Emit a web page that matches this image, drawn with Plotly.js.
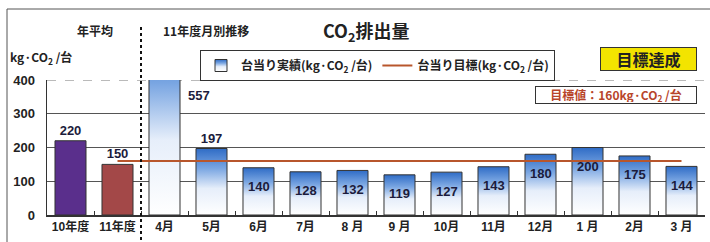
<!DOCTYPE html>
<html><head><meta charset="utf-8">
<script src="https://cdn.plot.ly/plotly-3.0.1.min.js"></script>
<style>html,body{margin:0;padding:0;background:#fff}#chart{width:710px;height:242px}</style>
</head><body><div id="chart"></div>
<script>
// ---- data ----
const categories = ['10年度','11年度','4月','5月','6月','7月','8 月','9 月','10月','11月','12月','1 月','2月','3 月'];
const annualCats = ['10年度','11年度'];
const annualValues = [220, 150];
const monthCats = ['4月','5月','6月','7月','8 月','9 月','10月','11月','12月','1 月','2月','3 月'];
const monthValues = [557, 197, 140, 128, 132, 119, 127, 143, 180, 200, 175, 144];
const targetValue = 160;
const targetRange = ['11年度','3 月'];
const yTicks = [0, 100, 200, 300, 400];

const FONT = 'Liberation Sans, Noto Sans CJK JP, sans-serif';
const JFONT = 'Noto Sans CJK JP, sans-serif';
const LBL = {family:FONT, size:13, color:'#1c1c3c', weight:'bold'};

const annual = {
  type:'bar', x:annualCats, y:annualValues, name:'年平均', showlegend:false,
  marker:{color:['#5a2f8c','#a34848'], line:{color:'#333', width:1}},
  text:annualValues.map(String), textposition:'outside',
  textfont:LBL, width:0.66
};
const monthly = {
  type:'bar', x:monthCats, y:monthValues, name:'台当り実績(kg·CO<sub>2</sub> /台)',
  marker:{color:'#4a86d6', line:{color:'#333', width:1}},
  text:monthValues.map(String),
  textposition:monthValues.map((v,i)=> i===1 ? 'outside' : 'none'),
  textfont:LBL, width:0.66
};
const target = {
  type:'scatter', mode:'lines', x:targetRange, y:[targetValue, targetValue],
  name:'台当り目標(kg·CO<sub>2</sub> /台)', line:{color:'#b8562c', width:2}
};

const px = x => (x-47)/658, py = y => 1+(80-y)/135;

const insideLabels = monthCats.map((c,i) => ({
  xref:'x', yref:'y', x:c, y:monthValues[i], text:String(monthValues[i]), showarrow:false,
  xanchor:'center', yanchor:'middle', yshift:-19, font:LBL
})).filter((a,i) => i >= 2);

const layout = {
  width:710, height:242,
  margin:{l:47, r:5, t:80, b:27},
  paper_bgcolor:'#fff', plot_bgcolor:'#fff',
  barmode:'overlay',
  font:{family:FONT, color:'#222'},
  xaxis:{type:'category', categoryorder:'array', categoryarray:categories,
    range:[-0.5, 13.5], showgrid:false, showline:true, linecolor:'#333', linewidth:2,
    ticks:'inside', tickson:'boundaries', ticklen:4, tickcolor:'#333',
    tickfont:{family:FONT, size:12, color:'#222', weight:'bold'}},
  yaxis:{range:[0,400], tickvals:yTicks, showgrid:true, gridcolor:'#555', gridwidth:1,
    showline:true, linecolor:'#333', linewidth:1.5, zeroline:false, ticks:'', ticklabelstandoff:8,
    tickfont:{family:FONT, size:13, color:'#222', weight:'bold'}},
  legend:{orientation:'h', x:px(200), y:py(50), xanchor:'left', yanchor:'top',
    bordercolor:'#333', borderwidth:1, bgcolor:'#fff',
    font:{family:JFONT, size:12, color:'#222', weight:'bold'}, itemwidth:30, tracegroupgap:0},
  shapes:[
    {type:'line', xref:'paper', yref:'y', x0:0, x1:1, y0:400, y1:400, layer:'between',
      line:{color:'#fff', width:2}},
    {type:'line', xref:'paper', yref:'y', x0:0, x1:1, y0:400, y1:400, layer:'between',
      line:{color:'#777', width:1, dash:'dash'}},
    {type:'line', xref:'x', yref:'paper', x0:1.5, x1:1.5, y0:py(240), y1:py(26),
      line:{color:'#111', width:2, dash:'dot'}},
    {type:'line', xref:'paper', yref:'paper', x0:px(7), x1:px(712), y0:py(9), y1:py(9),
      line:{color:'#555', width:1}},
    {type:'line', xref:'paper', yref:'paper', x0:px(7), x1:px(7), y0:py(9), y1:py(245),
      line:{color:'#555', width:1}}
  ],
  annotations:[
    {xref:'paper', yref:'paper', x:px(366), y:py(31), xanchor:'center', yanchor:'middle', text:'CO<sub>2</sub>排出量', showarrow:false,
      font:{family:JFONT, size:18, color:'#222', weight:'bold'}},
    {xref:'paper', yref:'paper', x:px(95), y:py(30), xanchor:'center', yanchor:'middle', text:'年平均', showarrow:false,
      font:{family:JFONT, size:12, color:'#222', weight:'bold'}},
    {xref:'paper', yref:'paper', x:px(161), y:py(30), xanchor:'left', yanchor:'middle', text:'11年度月別推移', showarrow:false,
      font:{family:JFONT, size:12, color:'#222', weight:'bold'}},
    {xref:'paper', yref:'paper', x:px(8), y:py(57), xanchor:'left', yanchor:'middle', text:'kg·CO<sub>2</sub> /台', showarrow:false,
      font:{family:JFONT, size:12, color:'#222', weight:'bold'}},
    {xref:'paper', yref:'paper', x:px(648), y:py(59), xanchor:'center', yanchor:'middle', text:'目標達成', showarrow:false,
      bgcolor:'#f3e400', bordercolor:'#333', borderwidth:1, width:93, height:20,
      font:{family:JFONT, size:16, color:'#222', weight:'bold'}},
    {xref:'paper', yref:'paper', x:px(616), y:py(95), xanchor:'center', yanchor:'middle', text:'目標値：' + targetValue + 'kg·CO<sub>2</sub> /台', showarrow:false,
      bgcolor:'#fff', bordercolor:'#333', borderwidth:1, width:158, height:14,
      font:{family:JFONT, size:12, color:'#b8452a', weight:'bold'}},
    {xref:'x', yref:'y', x:monthCats[0], y:400, xanchor:'center', yanchor:'middle', text:String(monthValues[0]), showarrow:false,
      xshift:34, yshift:-15, font:LBL}
  ].concat(insideLabels)
};

Plotly.newPlot('chart', [annual, monthly, target], layout, {displayModeBar:false, staticPlot:true}).then(gd => {
  const svg = gd.querySelector('svg.main-svg');
  const defs = svg.querySelector('defs');
  const NS = 'http://www.w3.org/2000/svg';
  const g = document.createElementNS(NS, 'linearGradient');
  g.setAttribute('id', 'blueGrad'); g.setAttribute('x1','0'); g.setAttribute('y1','0');
  g.setAttribute('x2','0'); g.setAttribute('y2','1');
  [['0%','#2f6cc6'],['30%','#7aa6e2'],['60%','#e6eefa'],['100%','#ffffff']].forEach(([o,c]) => {
    const s = document.createElementNS(NS, 'stop'); s.setAttribute('offset', o); s.setAttribute('stop-color', c); g.appendChild(s);
  });
  defs.appendChild(g);
  const traces = gd.querySelectorAll('.barlayer .trace');
  if (traces[1]) traces[1].querySelectorAll('path').forEach(p => { p.style.fill = 'url(#blueGrad)'; });
  gd.querySelectorAll('.legend .legendpoints path').forEach(p => {
    if (p.style.fill && p.style.fill.indexOf('74, 134, 214') >= 0) p.style.fill = 'url(#blueGrad)';
  });
});
</script></body></html>
